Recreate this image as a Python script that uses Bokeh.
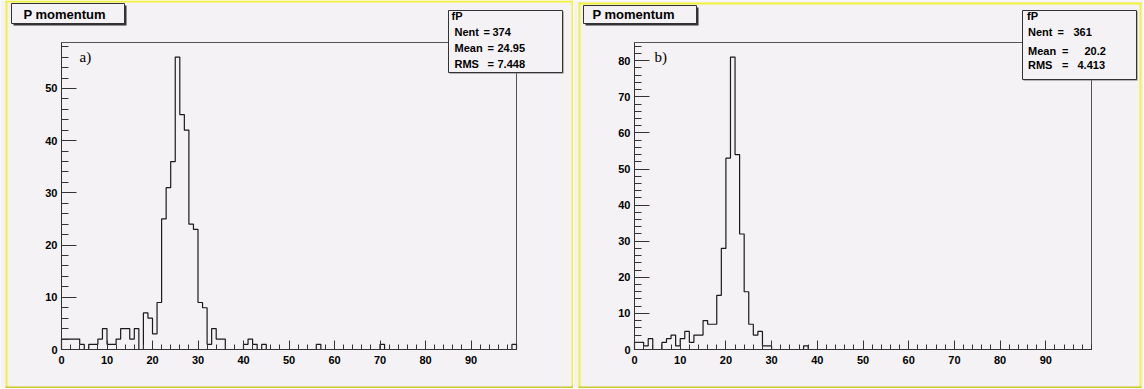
import numpy as np
from bokeh.plotting import figure
from bokeh.models import FixedTicker, Range1d, Label, BoxAnnotation, LinearAxis
from bokeh.layouts import row
from bokeh.embed import file_html
from bokeh.resources import INLINE

# ---------------- data ----------------
bin_edges = list(range(0, 101))
counts_a = [2, 2, 2, 2, 1, 0, 1, 1, 2, 4,
            1, 1, 2, 4, 4, 2, 4, 0, 7, 6,
            3, 9, 25, 31, 36, 56, 45, 42, 24, 23,
            9, 8, 1, 4, 2, 2, 0, 0, 0, 0,
            1, 2, 1, 0, 1, 0, 0, 0, 0, 0,
            0, 0, 0, 0, 0, 0, 1, 0, 0, 0,
            0, 0, 0, 0, 0, 0, 0, 0, 0, 0,
            1, 0, 0, 0, 0, 0, 0, 0, 0, 0,
            0, 0, 0, 0, 0, 0, 0, 0, 0, 0,
            0, 0, 0, 0, 0, 0, 0, 0, 0, 1]
counts_b = [2, 2, 1, 3, 0, 0, 2, 3, 4, 1,
            3, 5, 2, 4, 4, 8, 7, 7, 15, 28,
            53, 81, 54, 32, 16, 7, 4, 5, 1, 1,
            0, 0, 0, 0, 0, 0, 0, 1, 0, 0,
            0, 0, 0, 0, 0, 0, 0, 0, 0, 0,
            0, 0, 0, 0, 0, 0, 0, 0, 0, 0,
            0, 0, 0, 0, 0, 0, 0, 0, 0, 0,
            0, 0, 0, 0, 0, 0, 0, 0, 0, 0,
            0, 0, 0, 0, 0, 0, 0, 0, 0, 0,
            0, 0, 0, 0, 0, 0, 0, 0, 0, 0]
x_ticks = [0, 10, 20, 30, 40, 50, 60, 70, 80, 90]
x_minor = list(range(0, 101, 2))
y_ticks_a = [0, 10, 20, 30, 40, 50]
y_ticks_b = [0, 10, 20, 30, 40, 50, 60, 70, 80]
title_text = "P momentum"
stats_a = {"name": "fP", "nent": "374", "mean": "24.95", "rms": "7.448"}
stats_b = {"name": "fP", "nent": "361", "mean": "20.2", "rms": "4.413"}
panel_tags = ["a)", "b)"]

BG = "#f5f2f5"
DARK = "#333333"
FONT = "Liberation Sans"
YEL = "#f2f23a"
OLIVE = "#c6c62e"

CY0, CH = 0, 388          # canvas top (page px) and height
FY0, FY1 = 42, 349        # frame top / bottom (page px)


def make_pad(cx0, cw, fx0, fx1, counts, yticks):
    x_lo, x_hi = bin_edges[0], bin_edges[-1]
    ymax = max(counts) * 1.05
    sx = (fx1 - fx0) / (x_hi - x_lo)
    sy = (FY1 - FY0) / ymax
    xr = Range1d(x_lo - (fx0 - cx0) / sx, x_hi + (cx0 + cw - fx1) / sx)
    yr = Range1d(-(CY0 + CH - FY1) / sy, ymax + (FY0 - CY0) / sy)
    p = figure(width=cw, height=CH, x_range=xr, y_range=yr, title=None,
               output_backend="svg", toolbar_location=None,
               x_axis_location=None, y_axis_location=None,
               min_border=0, min_border_left=0, min_border_right=0,
               min_border_top=0, min_border_bottom=0,
               background_fill_color=BG, border_fill_color=BG,
               outline_line_color=None)
    p.grid.visible = False
    # histogram frame
    p.quad(left=x_lo, right=x_hi, bottom=0, top=ymax, fill_color=None,
           line_color="#555555", line_width=1)
    xaxis = LinearAxis(ticker=FixedTicker(ticks=x_ticks, minor_ticks=x_minor),
                       fixed_location=0, bounds=(x_lo, x_hi))
    yaxis = LinearAxis(ticker=FixedTicker(ticks=yticks, minor_ticks=list(range(0, int(ymax) + 1, 2))),
                       fixed_location=x_lo, bounds=(0, ymax))
    for ax in (xaxis, yaxis):
        ax.axis_line_color = DARK
        ax.major_tick_line_color = DARK
        ax.minor_tick_line_color = DARK
        ax.major_tick_out = 0
        ax.minor_tick_out = 0
        ax.major_label_text_font = FONT
        ax.major_label_text_font_style = "bold"
        ax.major_label_text_font_size = "11px"
        ax.major_label_text_color = "black"
    xaxis.major_tick_in = 9
    xaxis.minor_tick_in = 5
    xaxis.major_label_standoff = 6
    yaxis.major_tick_in = 15
    yaxis.minor_tick_in = 7
    yaxis.major_label_standoff = 4
    p.add_layout(xaxis, "below")
    p.add_layout(yaxis, "left")

    xs = [bin_edges[0]] + bin_edges
    ys = [0] + list(counts) + [0]
    p.step(xs, ys, mode="after", line_color="#1a1a1a", line_width=1.2)
    return p


def add_box(p, cx0, x0, y0, x1, y1, fill, line=None, lw=1):
    cb = CY0 + CH
    p.add_layout(BoxAnnotation(left=x0 - cx0, right=x1 - cx0, top=cb - y0, bottom=cb - y1,
                               left_units="screen", right_units="screen",
                               top_units="screen", bottom_units="screen",
                               fill_color=fill, fill_alpha=1.0,
                               line_color=line if line else fill,
                               line_alpha=1.0 if line else 0.0,
                               line_width=lw, level="overlay"))


def add_text(p, cx0, x, y, text, size="11px", font=FONT, style="bold"):
    cb = CY0 + CH
    p.add_layout(Label(x=x - cx0, y=cb - y, x_units="screen", y_units="screen",
                       text=text, text_font=font, text_font_size=size,
                       text_font_style=style, text_align="left",
                       text_baseline="middle", text_color="black", level="overlay"))


def pad_border(p, cx0, x0, y0, x1, y1):
    add_box(p, cx0, x0, y0, x1, y0 + 2, YEL)
    add_box(p, cx0, x0, y0, x0 + 2, y1, YEL)
    add_box(p, cx0, x1 - 2, y0, x1, y1, YEL)
    add_box(p, cx0, x0, y1 - 2, x1, y1, OLIVE)


# ---- left pad: canvas page x 0..573 ----
cx = 0
pa = make_pad(cx, 573, 61, 516, counts_a, y_ticks_a)
pad_border(pa, cx, 5, 0, 573, 388)
add_box(pa, cx, 13, 5, 126, 25, DARK)
add_box(pa, cx, 11, 3, 124, 23, BG, DARK)
add_text(pa, cx, 23, 13.5, title_text, size="13px")
add_box(pa, cx, 449, 11, 563, 73, "#777777")
add_box(pa, cx, 448, 10, 562, 72, BG, DARK)
add_text(pa, cx, 451, 15.5, stats_a["name"])
add_text(pa, cx, 454, 31, "Nent")
add_text(pa, cx, 483, 31, "=")
add_text(pa, cx, 492, 31, stats_a["nent"])
add_text(pa, cx, 454, 47, "Mean")
add_text(pa, cx, 487, 47, "=")
add_text(pa, cx, 497, 47, stats_a["mean"])
add_text(pa, cx, 454, 63.5, "RMS")
add_text(pa, cx, 487, 63.5, "=")
add_text(pa, cx, 497, 63.5, stats_a["rms"])
add_text(pa, cx, 79, 56.5, panel_tags[0], size="15px", font="Liberation Serif", style="normal")

# ---- right pad: canvas page x 573..1143 ----
cx = 573
pb = make_pad(cx, 570, 634, 1091, counts_b, y_ticks_b)
pad_border(pb, cx, 578, 2, 1141, 388)
add_box(pb, cx, 585, 7, 698, 25, DARK)
add_box(pb, cx, 583, 5, 696, 23, BG, DARK)
add_text(pb, cx, 592, 14, title_text, size="13px")
add_box(pb, cx, 1023, 11, 1137, 80, "#777777")
add_box(pb, cx, 1022, 10, 1136, 79, BG, DARK)
add_text(pb, cx, 1026.5, 15, stats_b["name"])
add_text(pb, cx, 1027.5, 31.5, "Nent")
add_text(pb, cx, 1057, 31.5, "=")
add_text(pb, cx, 1073, 31.5, stats_b["nent"])
add_text(pb, cx, 1027.5, 50, "Mean")
add_text(pb, cx, 1061.5, 50, "=")
add_text(pb, cx, 1084, 50, stats_b["mean"])
add_text(pb, cx, 1027.5, 64.5, "RMS")
add_text(pb, cx, 1061.5, 64.5, "=")
add_text(pb, cx, 1077, 64.5, stats_b["rms"])
add_text(pb, cx, 654, 56.5, panel_tags[1], size="15px", font="Liberation Serif", style="normal")

layout = row(pa, pb, spacing=0)
open("out.html", "w").write(file_html(layout, INLINE))
